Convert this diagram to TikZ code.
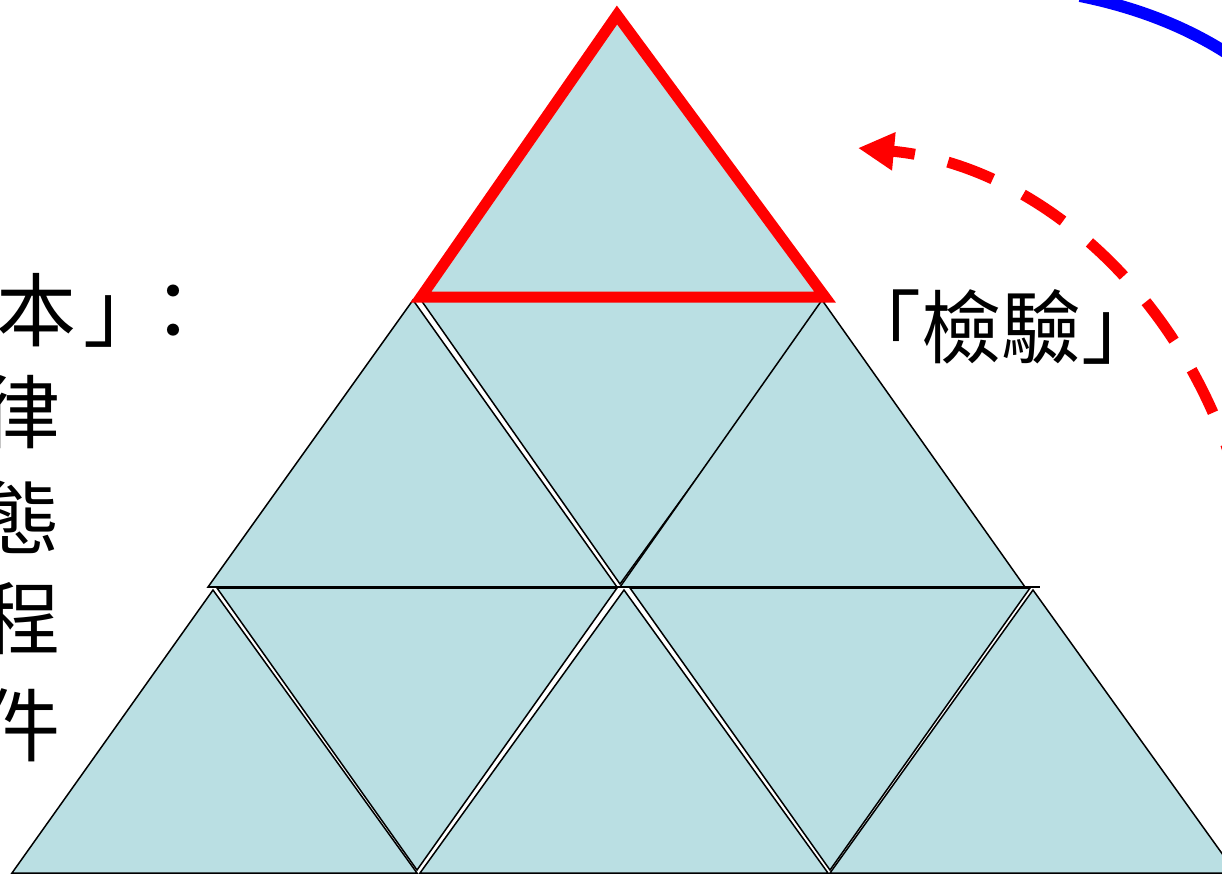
\documentclass[tikz,border=0pt]{standalone}
\usepackage{fontspec}
\newfontfamily\cjk{Noto Sans CJK TC}
\usetikzlibrary{arrows.meta}
\definecolor{pyr}{HTML}{BADFE3}
\tikzset{
  tri/.style={fill=pyr, draw=black, line width=0.75pt, line join=miter},
  redtri/.style={draw=red, line width=5.5pt, line join=miter},
  bigtext/.style={font=\cjk\fontsize{40}{40}\selectfont, inner sep=0pt, anchor=base west},
  bluearc/.style={draw=blue, line width=6pt},
  redarrow/.style={draw=red, line width=5.5pt, dash pattern=on 24pt off 17pt, -{Triangle[length=18pt,width=18pt]}}
}
\begin{document}
\begin{tikzpicture}[x=0.5pt,y=-0.5pt]
\useasboundingbox (0,0) rectangle (1222,875);
\fill[white] (0,0) rectangle (1222,875);
% row 3
\draw[tri] (213,590) -- (12,873) -- (417,873) -- cycle;
\draw[tri] (217,588) -- (617,588) -- (417,870) -- cycle;
\draw[tri] (624,590) -- (420,873) -- (828,873) -- cycle;
\draw[tri] (630,588) -- (1030,588) -- (830,870) -- cycle;
\draw[tri] (1033,590) -- (830,873) -- (1236,873) -- cycle;
% row 2
\draw[tri] (413,300) -- (208,587) -- (617,587) -- cycle;
\draw[tri] (421,300) -- (826,300) -- (620,584) -- cycle;
\draw[tri] (822,300) -- (620,587) -- (1025,587) -- cycle;
\draw[black, line width=0.75pt] (208,587) -- (1040,587);
% row 1
\draw[tri] (619,12) -- (419,297) -- (828,297) -- cycle;
\draw[redtri] (617,15) -- (421,297) -- (825,297) -- cycle;
% texts
\node[bigtext] (t1a) at (-4,340) {本};
\node[bigtext] (t1b) at (83,340) {」};
\node[bigtext] (t1c) at (133,340) {：};
\node[bigtext] (t2) at (-20,442) {律};
\node[bigtext] (t3) at (-20,548) {態};
\node[bigtext] (t4) at (-20,648) {程};
\node[bigtext] (t5) at (-20,755) {件};
\node[bigtext] (check) at (841,357) {「檢驗」};
% arcs
\coordinate (b1) at (1080,-4);
\coordinate (b2) at (1240,62);
\draw[bluearc] (b1) .. controls (1140,8) and (1195,30) .. (b2);
\coordinate (r1) at (1240,490);
\coordinate (r2) at (858,148);
\draw[redarrow] (r1) .. controls (1190,300) and (1040,165) .. (r2);
\end{tikzpicture}
\end{document}
